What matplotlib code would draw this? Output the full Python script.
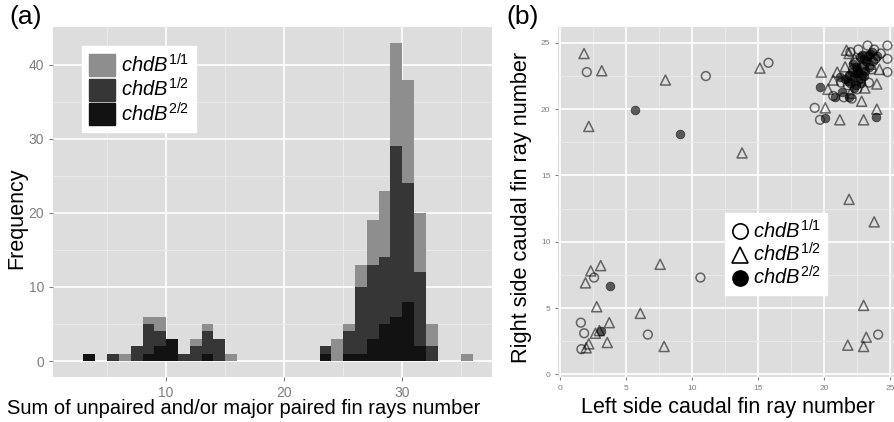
import numpy as np
import matplotlib
matplotlib.use("Agg")
import matplotlib.pyplot as plt
from matplotlib.lines import Line2D
from matplotlib.patches import Patch

plt.rcParams['font.family'] = ['Liberation Sans', 'DejaVu Sans']
plt.rcParams['mathtext.fontset'] = 'custom'
plt.rcParams['mathtext.it'] = 'Liberation Sans:italic'
plt.rcParams['mathtext.rm'] = 'Liberation Sans'

# (a) histogram: bin left edges (width 1) and stacked counts per genotype
bins = list(range(3, 36))
n22 = [1, 0, 0, 0, 0, 1, 2, 3, 0, 0, 1, 0, 0, 0, 0, 0, 0, 0, 0, 0,
       1, 0, 1, 1, 3, 5, 6, 8, 2, 0, 0, 0, 0]
n12 = [0, 0, 1, 0, 2, 4, 2, 0, 1, 2, 3, 3, 0, 0, 0, 0, 0, 0, 0, 0,
       1, 0, 3, 9, 10, 9, 23, 16, 10, 2, 0, 0, 0]
n11 = [0, 0, 0, 1, 0, 1, 2, 0, 0, 1, 1, 0, 1, 0, 0, 0, 0, 0, 0, 0,
       0, 3, 1, 3, 6, 9, 14, 14, 8, 3, 0, 0, 1]

# (b) left vs right caudal fin ray numbers
c11_x = [2.05, 11.06, 15.8, 10.65, 2.6, 1.6, 1.85, 1.64, 6.67, 24.1, 19.3, 19.7,
         23.3, 24.8, 24.8, 24.8, 20.7, 21.5, 22.1, 22.0, 22.6, 23.8, 24.3, 22.4,
         23.0, 23.6, 22.0, 22.8, 23.4, 21.8, 22.5, 23.9, 21.3, 22.2, 23.2]
c11_y = [22.8, 22.5, 23.5, 7.3, 7.3, 3.9, 3.1, 1.9, 3.0, 3.0, 20.1, 19.2,
         24.8, 24.8, 23.8, 22.8, 21.0, 20.9, 20.8, 24.3, 24.5, 24.5, 24.2, 23.5,
         23.2, 23.0, 22.5, 22.3, 22.0, 21.8, 21.5, 23.8, 22.0, 23.0, 24.0]
c12_x = [1.84, 3.18, 8.0, 2.2, 15.15, 13.8, 21.9, 23.8, 7.6, 2.35, 3.1, 1.95,
         2.8, 6.1, 3.75, 2.7, 3.0, 3.6, 2.2, 2.0, 7.9, 23.0, 21.8, 23.0, 23.2,
         21.7, 21.9, 19.8, 21.0, 20.7, 20.3, 24.0, 20.1, 22.85, 24.0, 21.2, 23.0,
         22.3, 23.5, 22.7, 21.6, 23.1, 24.2, 22.0]
c12_y = [24.2, 22.9, 22.2, 18.7, 23.1, 16.7, 13.2, 11.5, 8.3, 7.8, 8.2, 6.9,
         5.1, 4.6, 3.9, 3.1, 3.3, 2.4, 2.3, 2.0, 2.1, 5.2, 2.2, 2.1, 2.8,
         24.45, 24.2, 22.8, 22.8, 22.2, 21.5, 21.9, 20.1, 20.6, 20.0, 19.2, 19.2,
         23.8, 23.4, 22.8, 23.2, 21.6, 23.0, 21.2]
c22_x = [5.7, 9.1, 3.8, 3.15, 20.1, 23.9, 19.7,
         22.0, 22.3, 22.6, 22.9, 23.2, 22.5, 21.9, 22.8, 23.0, 22.4, 21.6, 23.4,
         22.2, 20.8, 21.4, 22.9, 23.6, 21.9, 22.7, 23.1, 22.1, 23.3, 22.6, 22.4,
         23.7, 22.9, 21.8, 23.5, 22.3, 23.0, 24.0, 21.2, 22.5]
c22_y = [19.95, 18.1, 6.7, 3.25, 19.3, 19.4, 21.7,
         22.0, 22.4, 22.8, 23.3, 23.6, 23.0, 22.6, 22.0, 22.5, 21.8, 22.3, 23.2,
         23.4, 20.9, 21.3, 24.1, 24.3, 20.9, 23.9, 22.9, 22.8, 24.0, 22.2, 23.2,
         23.6, 22.6, 22.1, 24.2, 21.6, 23.8, 24.0, 22.4, 22.7]

col11, col12, col22 = '#8e8e8e', '#363636', '#121212'
bg = '#dddddd'

fig = plt.figure(figsize=(8.94, 4.22), dpi=100)

def style(ax):
    ax.set_facecolor(bg)
    for s in ax.spines.values():
        s.set_visible(False)
    ax.set_axisbelow(True)
    ax.grid(which='major', color='white', lw=1.2)
    ax.grid(which='minor', color='#ebebeb', lw=0.6)
    ax.tick_params(which='major', color='#7f7f7f', length=3, labelcolor='#7f7f7f')
    ax.tick_params(which='minor', length=0)

# ---- panel (a)
ax1 = fig.add_axes([53/894, 45/422, 439/894, 350/422])
style(ax1)
x = np.array(bins)
b2 = np.array(n22)
b1 = b2 + np.array(n12)
ax1.bar(x, n22, width=1, align='edge', color=col22, lw=0)
ax1.bar(x, n12, width=1, align='edge', bottom=b2, color=col12, lw=0)
ax1.bar(x, n11, width=1, align='edge', bottom=b1, color=col11, lw=0)
ax1.set_xlim(0.42, 37.6)
ax1.set_ylim(-2.15, 45.1)
ax1.set_xticks([10, 20, 30])
ax1.set_xticks([5, 15, 25, 35], minor=True)
ax1.set_yticks([0, 10, 20, 30, 40])
ax1.set_yticks([5, 15, 25, 35], minor=True)
ax1.tick_params(labelsize=10)
h1 = [Patch(color=col11), Patch(color=col12), Patch(color=col22)]
lab = [r'$\mathit{chdB^{1/1}}$', r'$\mathit{chdB^{1/2}}$', r'$\mathit{chdB^{2/2}}$']
leg = ax1.legend(h1, lab, loc='upper left', bbox_to_anchor=(0.066, 0.946),
                 fontsize=14.5, frameon=True, fancybox=False, edgecolor='white',
                 framealpha=1, handlelength=1.3, handleheight=1.3,
                 handletextpad=0.3, labelspacing=0.05, borderpad=0.35,
                 borderaxespad=0)

# ---- panel (b)
ax2 = fig.add_axes([558/894, 45/422, 336/894, 350/422])
style(ax2)
ax2.scatter(c11_x, c11_y, s=40, marker='o', facecolors='none',
            edgecolors='black', linewidths=1.1, alpha=0.55)
ax2.scatter(c12_x, c12_y, s=52, marker='^', facecolors='none',
            edgecolors='black', linewidths=1.1, alpha=0.55)
ax2.scatter(c22_x, c22_y, s=40, marker='o', facecolors='black',
            edgecolors='black', linewidths=0.5, alpha=0.6)
ax2.set_xlim(-0.13, 25.3)
ax2.set_ylim(-0.2, 26.2)
ax2.set_xticks([0, 5, 10, 15, 20, 25])
ax2.set_xticks([2.5, 7.5, 12.5, 17.5, 22.5], minor=True)
ax2.set_yticks([0, 5, 10, 15, 20, 25])
ax2.set_yticks([2.5, 7.5, 12.5, 17.5, 22.5], minor=True)
ax2.tick_params(labelsize=6, length=2)
h2 = [Line2D([], [], marker='o', ls='none', mfc='none', mec='black', ms=11, mew=1.2),
      Line2D([], [], marker='^', ls='none', mfc='none', mec='black', ms=12, mew=1.2),
      Line2D([], [], marker='o', ls='none', mfc='black', mec='black', ms=11)]
ax2.legend(h2, lab, loc='upper left', bbox_to_anchor=(0.497, 0.468),
           fontsize=14.5, frameon=True, fancybox=False, edgecolor='white',
           framealpha=1, handlelength=0.9, handletextpad=0.2,
           labelspacing=0.0, borderpad=0.3, borderaxespad=0)

# ---- labels
fig.text(9/894, 1 - 5/422, '(a)', fontsize=19, va='top')
fig.text(506/894, 1 - 5/422, '(b)', fontsize=19, va='top')
fig.text(244/894, 1 - 408/422, 'Sum of unpaired and/or major paired fin rays number',
         fontsize=14.5, ha='center', va='center')
fig.text(17/894, 1 - 218/422, 'Frequency', fontsize=15.5, rotation=90,
         ha='center', va='center')
fig.text(728/894, 1 - 408/422, 'Left side caudal fin ray number',
         fontsize=15.5, ha='center', va='center')
fig.text(521/894, 1 - 207/422, 'Right side caudal fin ray number',
         fontsize=15.7, rotation=90, ha='center', va='center')

fig.savefig('out.png', dpi=100)
